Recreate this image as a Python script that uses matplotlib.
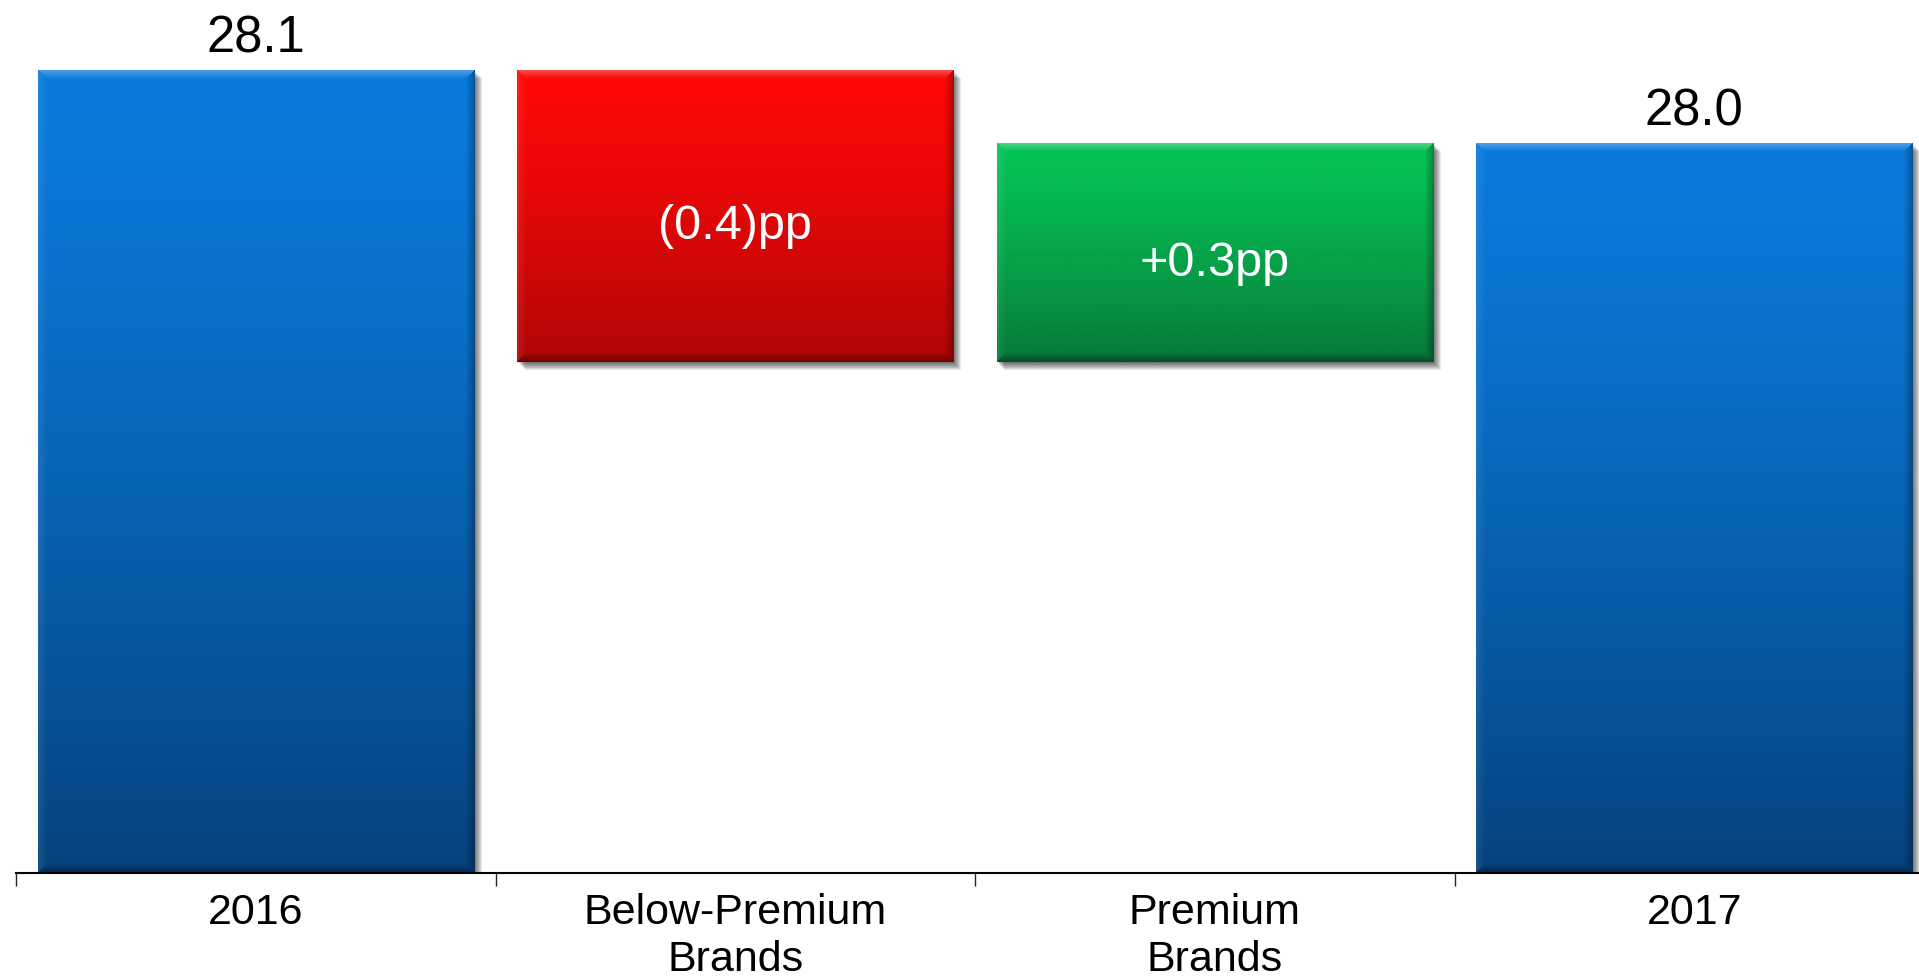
import numpy as np
import matplotlib.pyplot as plt
import matplotlib.patheffects as pe
from matplotlib.colors import to_rgb

plt.rcParams['font.family'] = ['Liberation Sans', 'DejaVu Sans']

categories = ['2016', 'Below-Premium\nBrands', 'Premium\nBrands', '2017']
start_total = 28.1
changes = [-0.4, 0.3]
end_total = 28.0
total_labels = ['28.1', '28.0']
change_labels = ['(0.4)pp', '+0.3pp']
y_floor = 27.0

# top / bottom colours of the gradient fill for each bar
grad_top = ['#0A7BDC', '#FF0808', '#06C455', '#0A7BDC']
grad_bot = ['#05427D', '#B00606', '#06783A', '#05427D']

# waterfall layout: floating bars for the changes
bottoms = [y_floor]
heights = [start_total - y_floor]
level = start_total
for c in changes:
    bottoms.append(min(level, level + c))
    heights.append(abs(c))
    level += c
bottoms.append(y_floor)
heights.append(end_total - y_floor)

W, H = 1919, 979
fig = plt.figure(figsize=(W / 100, H / 100), dpi=100)
ax = fig.add_axes([16 / W, 105 / H, 1918 / W, 874 / H])
x = np.arange(len(categories))

shadow = [pe.SimplePatchShadow(offset=(0.7 * k, -0.7 * k), shadow_rgbFace='k', alpha=0.09)
          for k in range(8, 0, -1)] + [pe.Normal()]
bars = ax.bar(x, heights, bottom=bottoms, width=0.91, color=grad_top, zorder=2,
              linewidth=0, path_effects=shadow)

ax.set_xlim(-0.5, 3.5)
ax.set_ylim(y_floor, 28.197)


def bevel_fill(top, bot, w, h, b=9):
    t = (np.arange(h) / max(h - 1, 1)) ** 1.3
    c0, c1 = np.array(to_rgb(top)), np.array(to_rgb(bot))
    img = (c0[None, None, :] * (1 - t)[:, None, None] + c1[None, None, :] * t[:, None, None])
    img = np.repeat(img, w, axis=1)
    yy, xx = np.mgrid[0:h, 0:w]
    d = np.stack([yy, h - 1 - yy, xx, w - 1 - xx])
    edge = d.argmin(axis=0)
    dist = d.min(axis=0)
    k = np.clip(1 - dist / b, 0, 1)[..., None]
    light = np.ones(3)
    out = img.copy()
    # top edge lighter, bottom/right darker, left slightly lighter
    m = (edge == 0)[..., None]
    out = np.where(m, img + (light - img) * 0.3 * k, out)
    m = (edge == 2)[..., None]
    out = np.where(m, img + (light - img) * 0.08 * k, out)
    m = (edge == 1)[..., None]
    out = np.where(m, img * (1 - 0.35 * k), out)
    m = (edge == 3)[..., None]
    out = np.where(m, img * (1 - 0.3 * k), out)
    return np.clip(out, 0, 1)


for i, p in enumerate(bars.patches):
    x0, y0 = p.get_x(), p.get_y()
    pw, ph = p.get_width(), p.get_height()
    (px0, py0), (px1, py1) = ax.transData.transform([(x0, y0), (x0 + pw, y0 + ph)])
    img = bevel_fill(grad_top[i], grad_bot[i], int(round(px1 - px0)), int(round(py1 - py0)))
    im = ax.imshow(img, extent=(x0, x0 + pw, y0, y0 + ph), aspect='auto', zorder=3,
                   interpolation='bilinear')
    im.set_clip_path(p)

ax.set_xlim(-0.5, 3.5)
ax.set_ylim(y_floor, 28.197)

# totals above the end bars
for xi, val, lab in [(0, start_total, total_labels[0]), (3, end_total, total_labels[1])]:
    ax.annotate(lab, xy=(xi, val), xytext=(0, 13.5), textcoords='offset points',
                ha='center', va='baseline', fontsize=36.5, color='black', zorder=6)

# change labels inside the floating bars
for j, lab in enumerate(change_labels):
    xi = j + 1
    ax.annotate(lab, xy=(xi, bottoms[xi] + heights[xi] / 2), xytext=(0, -7),
                textcoords='offset points', ha='center', va='center',
                fontsize=35, color='white', zorder=6)

for s in ['top', 'left', 'right']:
    ax.spines[s].set_visible(False)
ax.spines['bottom'].set_linewidth(1.5)
ax.spines['bottom'].set_color('black')
ax.spines['bottom'].set_zorder(5)
ax.set_yticks([])
ax.set_xticks(x)
ax.set_xticklabels(categories, fontsize=31, linespacing=1.2)
ax.set_xticks(np.arange(-0.5, 4.0, 1.0), minor=True)
ax.tick_params(axis='x', which='major', length=0, pad=14)
ax.tick_params(axis='x', which='minor', length=9.4, width=1, color='#222222')
ax.patch.set_visible(False)

fig.savefig('out.png', dpi=100, facecolor='white')
